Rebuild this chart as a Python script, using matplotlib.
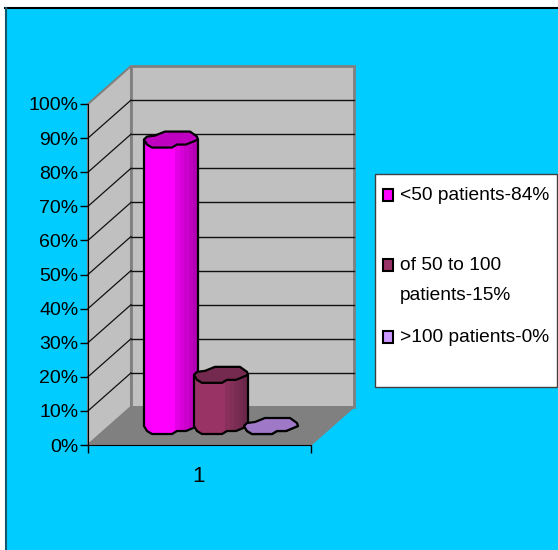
import matplotlib
matplotlib.use("Agg")
import matplotlib.pyplot as plt
from matplotlib.patches import Polygon, Rectangle

plt.rcParams['font.family'] = ['Liberation Sans', 'DejaVu Sans']

# data
pct_ticks = [0, 10, 20, 30, 40, 50, 60, 70, 80, 90, 100]
pct_labels = ['0%', '10%', '20%', '30%', '40%', '50%', '60%', '70%', '80%', '90%', '100%']
category = '1'
values = [84, 15, 0]
legend_labels = ['<50 patients-84%', 'of 50 to 100\npatients-15%', '>100 patients-0%']
legend_colors = ['#ff00ff', '#993366', '#cc99ff']

# shades of each bar, left to right, and of its top
shades = [['#ff00ff', '#e400e4', '#d800d8', '#cc00cc', '#c000c0', '#b400b4'],
          ['#993366', '#8a305c', '#823058', '#7a2c52', '#732a4e', '#6b274a'],
          ['#a078c8']]
cap_colors = ['#c000c0', '#732a4e', '#a078c8']

W, H = 558, 550
fig = plt.figure(figsize=(W / 100, H / 100), dpi=100, facecolor='white')

# background layer in pixels
bg = fig.add_axes([0, 0, 1, 1])
bg.set_xlim(0, W)
bg.set_ylim(H, 0)
bg.axis('off')
bg.add_patch(Rectangle((5, 8), W, H, fc='#00ccff', ec='none'))
bg.plot([5, W], [8, 8], color='black', lw=1.5)
bg.plot([5.5, 5.5], [8, H], color='#12586c', lw=1.5)

# front plane of the 3d box
x0, x1, y0, y1 = 88, 311, 445, 104
ax = fig.add_axes([x0 / W, 1 - y0 / H, (x1 - x0) / W, (y0 - y1) / H])
ax.patch.set_alpha(0)
ax.set_xlim(0, 1)
ax.set_ylim(0, 100)
for s in ['top', 'right']:
    ax.spines[s].set_visible(False)
ax.set_yticks(pct_ticks)
ax.set_yticklabels(pct_labels, fontsize=14)
ax.set_xticks([0, 1])
ax.set_xticklabels(['', ''])
ax.set_xticks([0.495], [category], minor=True, fontsize=16)
ax.tick_params(axis='x', which='minor', length=0, pad=15)
ax.tick_params(axis='both', which='major', length=6, width=1, color='black', pad=1)
ax.tick_params(axis='y', labelsize=14)

px = 1 / (x1 - x0)
py = 100 / (y0 - y1)
dx = 43 * px
dy = 38 * py


def add(poly, **kw):
    p = Polygon(poly, closed=True, clip_on=False, **kw)
    ax.add_patch(p)
    return p


# walls and floor
add([(0, 0), (dx, dy), (dx, 100 + dy), (0, 100)], fc='#c0c0c0', ec='#808080', lw=1.5, zorder=1)
add([(dx, dy), (1 + dx, dy), (1 + dx, 100 + dy), (dx, 100 + dy)], fc='#c0c0c0', ec='#808080', lw=2, zorder=1)
add([(0, 0), (1, 0), (1 + dx, dy), (dx, dy)], fc='#808080', ec='#808080', lw=1, zorder=1.5)
for t in pct_ticks[1:-1]:
    ax.plot([0, dx], [t, t + dy], color='#111111', lw=0.9, clip_on=False, zorder=2)
    ax.plot([dx, 1 + dx], [t + dy, t + dy], color='#111111', lw=1, clip_on=False, zorder=2)

# bars, irregular rounded outline in pixels around the centre of the cap
upper = [(-27, 0), (-24, -3), (-16, -4), (-6, -8), (19, -8), (26, -3)]
lower = [(27, 0), (15, 5), (6, 5), (1, 8), (-19, 8), (-24, 5)]
bar_width = 54 * px
bar_step = 50 * px
bar_start = 34.5 * px

for i, v in enumerate(values):
    cx = bar_start + bar_step * i + bar_width / 2 + dx / 2
    base = dy / 2
    top = base + v
    bottom_edge = [(cx + a * px, base - b * py) for a, b in lower]
    body = [(cx - 27 * px, top), (cx + 27 * px, top)] + bottom_edge + [(cx - 27 * px, base)]
    add(body, fc='none', ec='black', lw=1.6, zorder=5 + i * 2, joinstyle='round')
    bands = shades[i]
    # first band is wider, the others are narrow strips on the right
    edges = [0, 0.58] + [0.58 + 0.42 * k / (len(bands) - 1) for k in range(1, len(bands))] if len(bands) > 1 else [0, 1]
    for k, c in enumerate(bands):
        r = Rectangle((cx - 27 * px + edges[k] * bar_width, base - 10 * py), (edges[k + 1] - edges[k]) * bar_width,
                      v + 12 * py, fc=c, ec='none', zorder=4 + i * 2, clip_on=True)
        ax.add_patch(r)
        r.set_clip_path(Polygon(body, closed=True, transform=ax.transData))
    cap = [(cx + a * px, top - b * py) for a, b in upper + lower]
    add(cap, fc=cap_colors[i], ec='black', lw=1.6, zorder=5.5 + i * 2, joinstyle='round')

# legend box
fg = fig.add_axes([0, 0, 1, 1])
fg.set_xlim(0, W)
fg.set_ylim(H, 0)
fg.axis('off')
fg.patch.set_alpha(0)
fg.add_patch(Rectangle((375, 174), 182, 213, fc='white', ec='#404040', lw=1))
rows = [195, 265, 337]
for lab, col, yy in zip(legend_labels, legend_colors, rows):
    fg.add_patch(Rectangle((383, yy - 6), 10, 12, fc=col, ec='black', lw=1.5))
    lines = lab.split('\n')
    for j, line in enumerate(lines):
        fg.text(400, yy + j * 30, line, fontsize=13.8, va='center', ha='left', color='black')

fig.savefig('out.png', dpi=100, facecolor='white')
